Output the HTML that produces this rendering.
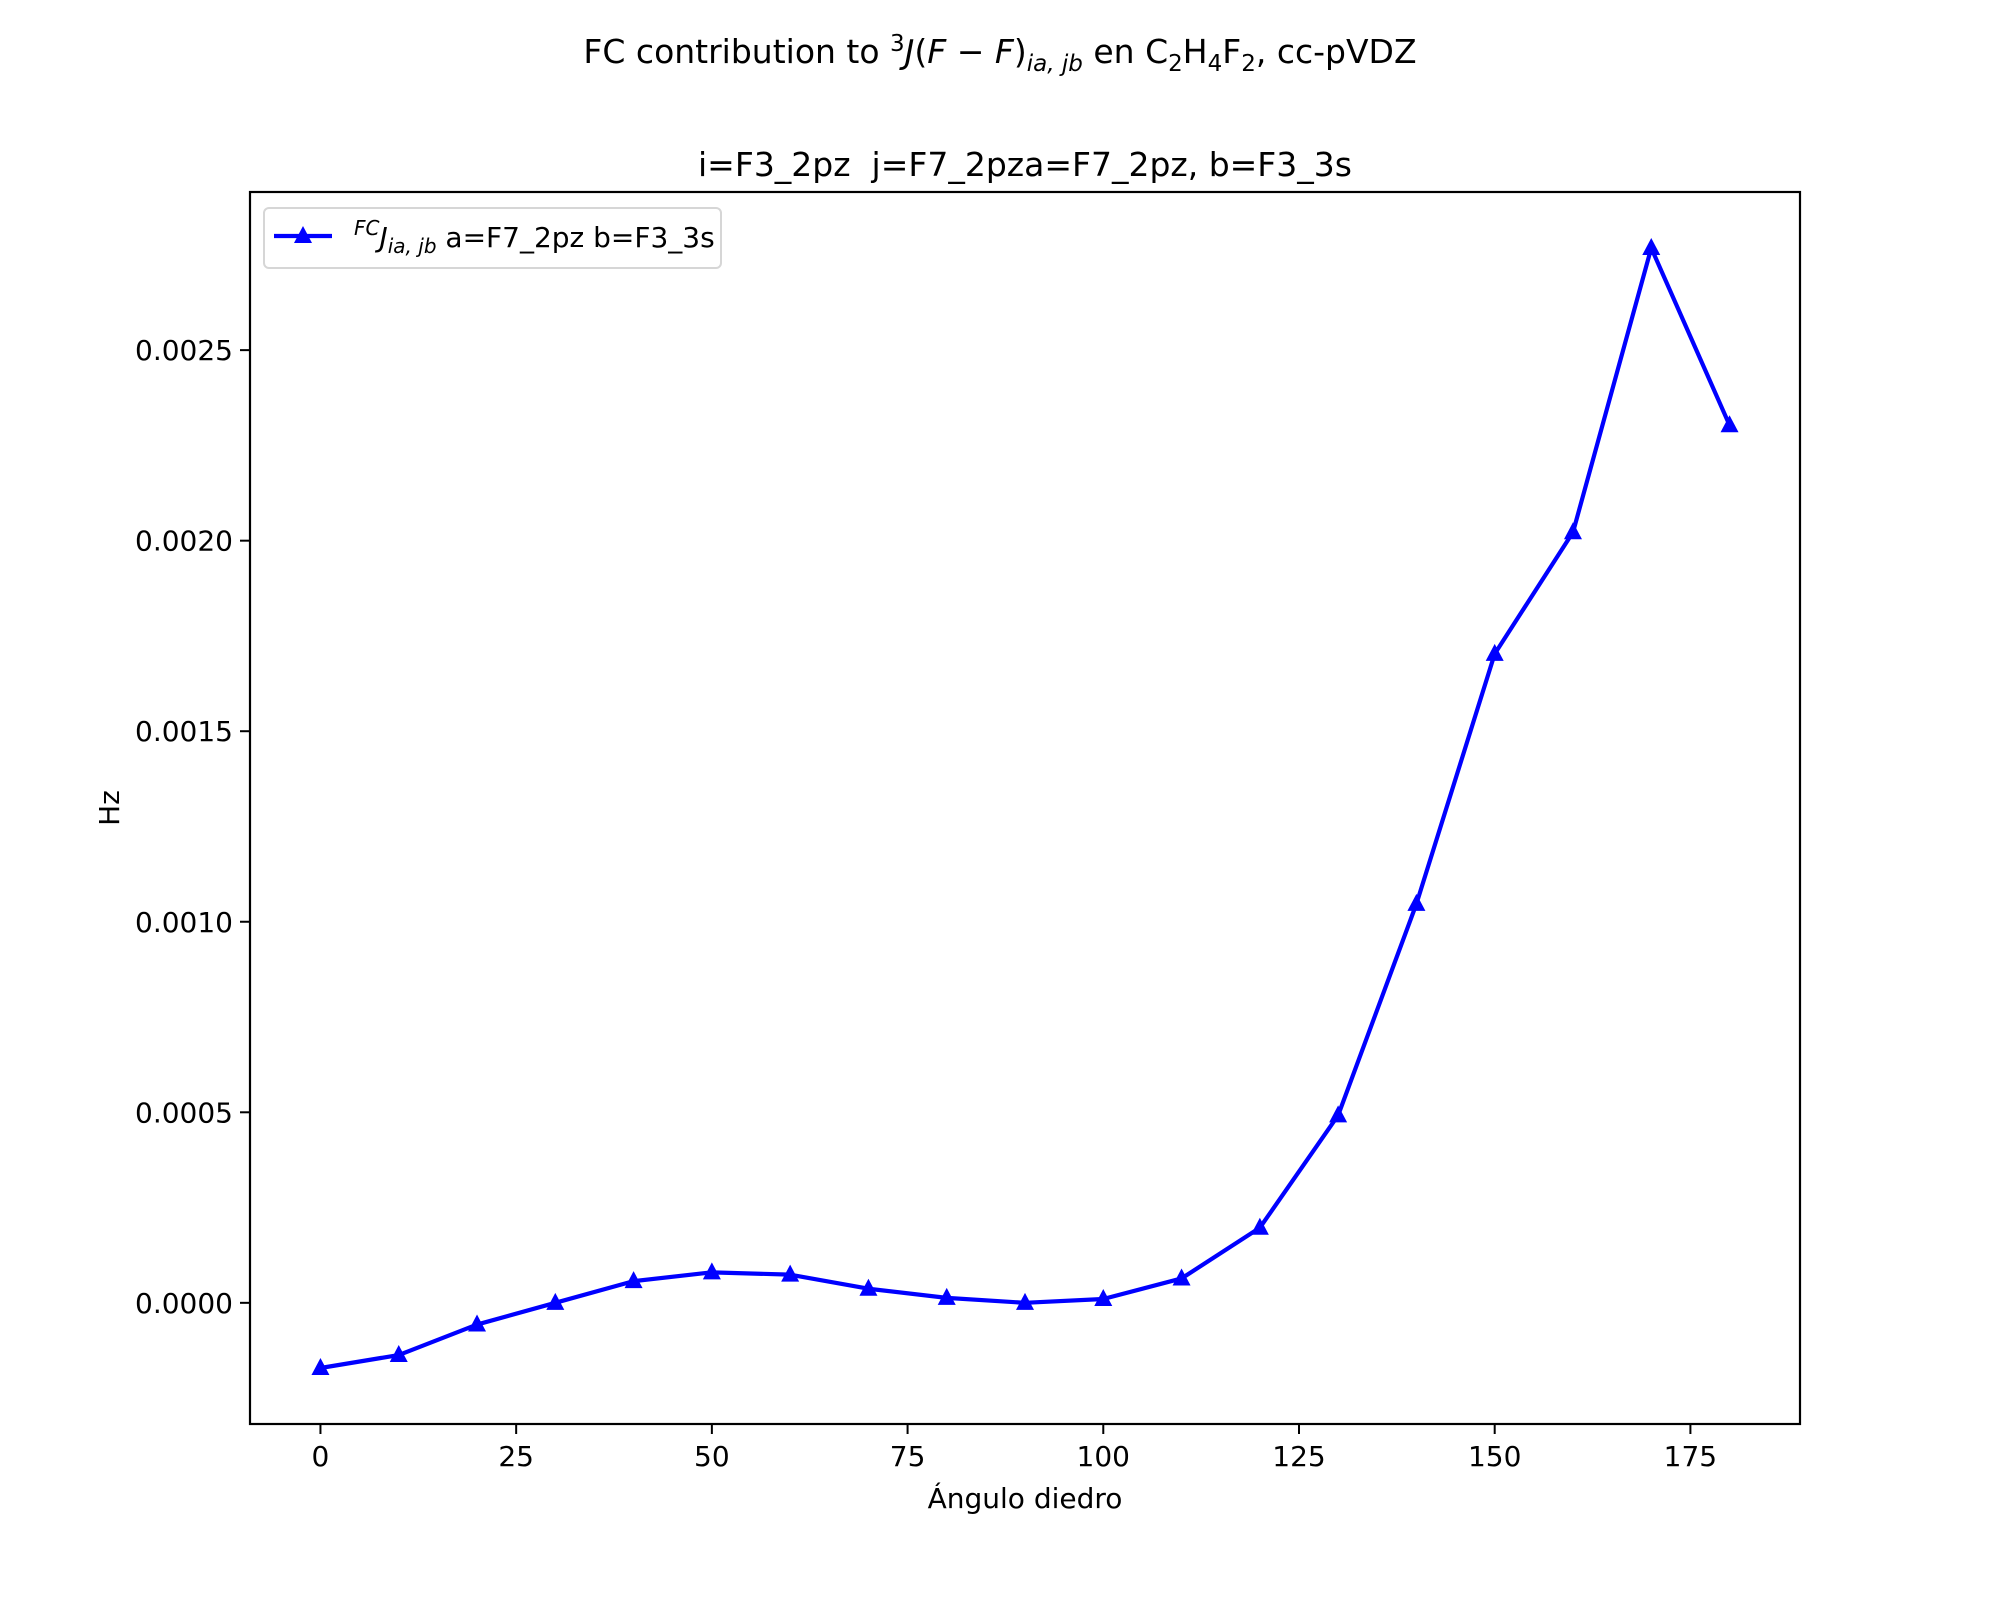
<!DOCTYPE html>
<html><head><meta charset="utf-8"><style>
body{margin:0;background:#fff;}
svg text{font-family:"DejaVu Sans","Liberation Sans",sans-serif;fill:#000;}
</style></head><body>
<svg id="chart" width="2000" height="1600" xmlns="http://www.w3.org/2000/svg">
<rect width="2000" height="1600" fill="#fff"/>
<text x="1000" y="63" font-size="33" text-anchor="middle">FC contribution to <tspan font-size="23" dy="-12">3</tspan><tspan dy="12" font-style="italic">J</tspan>(<tspan font-style="italic">F</tspan> − <tspan font-style="italic">F</tspan>)<tspan font-size="23" dy="8" font-style="italic">ia, jb</tspan><tspan dy="-8"> en C</tspan><tspan font-size="23" dy="8">2</tspan><tspan dy="-8">H</tspan><tspan font-size="23" dy="8">4</tspan><tspan dy="-8">F</tspan><tspan font-size="23" dy="8">2</tspan><tspan dy="-8">, cc-pVDZ</tspan></text>
<text x="1025" y="176" font-size="33" text-anchor="middle" xml:space="preserve">i=F3_2pz  j=F7_2pza=F7_2pz, b=F3_3s</text>
<g id="plot"></g>
<rect x="250" y="192" width="1550" height="1232" fill="none" stroke="#000" stroke-width="2.2"/>
<text x="1025" y="1508" font-size="28" text-anchor="middle">Ángulo diedro</text>
<text transform="translate(119,808) rotate(-90)" font-size="28" text-anchor="middle">Hz</text>
<g>
<rect x="264" y="208" width="457" height="60" rx="5" fill="#fff" fill-opacity="0.8" stroke="#d6d6d6" stroke-width="2"/>
<line x1="274" y1="236" x2="332" y2="236" stroke="#0000ff" stroke-width="4.2"/>
<polygon points="303,226 312,243 294,243" fill="#0000ff"/>
<text x="354" y="247" font-size="28"><tspan font-size="20" dy="-12" font-style="italic">FC</tspan><tspan dy="12" font-style="italic">J</tspan><tspan font-size="20" dy="6" font-style="italic">ia, jb</tspan><tspan dy="-6"> a=F7_2pz b=F3_3s</tspan></text>
</g>
</svg>
<script>
const angles=[0,10,20,30,40,50,60,70,80,90,100,110,120,130,140,150,160,170,180];
const values=[-0.000171,-0.000137,-0.000057,0.0,0.000057,0.00008,0.000074,0.000037,0.000013,0.0,0.00001,0.000064,0.000197,0.000492,0.001047,0.001703,0.002022,0.002768,0.002303];
const xTicks=[0,25,50,75,100,125,150,175];
const yTicks=[0,0.0005,0.001,0.0015,0.002,0.0025];
const yTickLabels=["0.0000","0.0005","0.0010","0.0015","0.0020","0.0025"];
const NS="http://www.w3.org/2000/svg";
const L=250,R=1800,T=192,B=1424;
const xmin0=Math.min(...angles),xmax0=Math.max(...angles),xm=(xmax0-xmin0)*0.05;
const ymin0=Math.min(...values),ymax0=Math.max(...values),ym=(ymax0-ymin0)*0.05;
const xs=v=>L+(v-(xmin0-xm))/((xmax0+xm)-(xmin0-xm))*(R-L);
const ys=v=>B-(v-(ymin0-ym))/((ymax0+ym)-(ymin0-ym))*(B-T);
const g=document.getElementById('plot');
function mk(t,a){const e=document.createElementNS(NS,t);for(const k in a)e.setAttribute(k,a[k]);g.appendChild(e);return e;}
xTicks.forEach(v=>{
 const l=mk('line',{x1:xs(v),x2:xs(v),y1:B,y2:B+10,stroke:'#000','stroke-width':2});
 
 
 const t=mk('text',{x:xs(v),y:B+42,'font-size':28,'text-anchor':'middle'});t.textContent=v;
 
 
});
yTicks.forEach((v,i)=>{
 const l=mk('line',{x1:L-10,x2:L,y1:ys(v),y2:ys(v),stroke:'#000','stroke-width':2});
 
 
 const t=mk('text',{x:L-17,y:ys(v)+10,'font-size':28,'text-anchor':'end'});t.textContent=yTickLabels[i];
 
 
});
const pl=mk('polyline',{points:angles.map((a,i)=>xs(a)+','+ys(values[i])).join(' '),fill:'none',stroke:'#0000ff','stroke-width':4.2,'stroke-linejoin':'round'});


angles.forEach((a,i)=>{
 const x=xs(a),y=ys(values[i]);
 const p=mk('polygon',{points:`${x},${y-10} ${x+9},${y+7} ${x-9},${y+7}`,fill:'#0000ff'});
 
 
});
</script>
</body></html>
